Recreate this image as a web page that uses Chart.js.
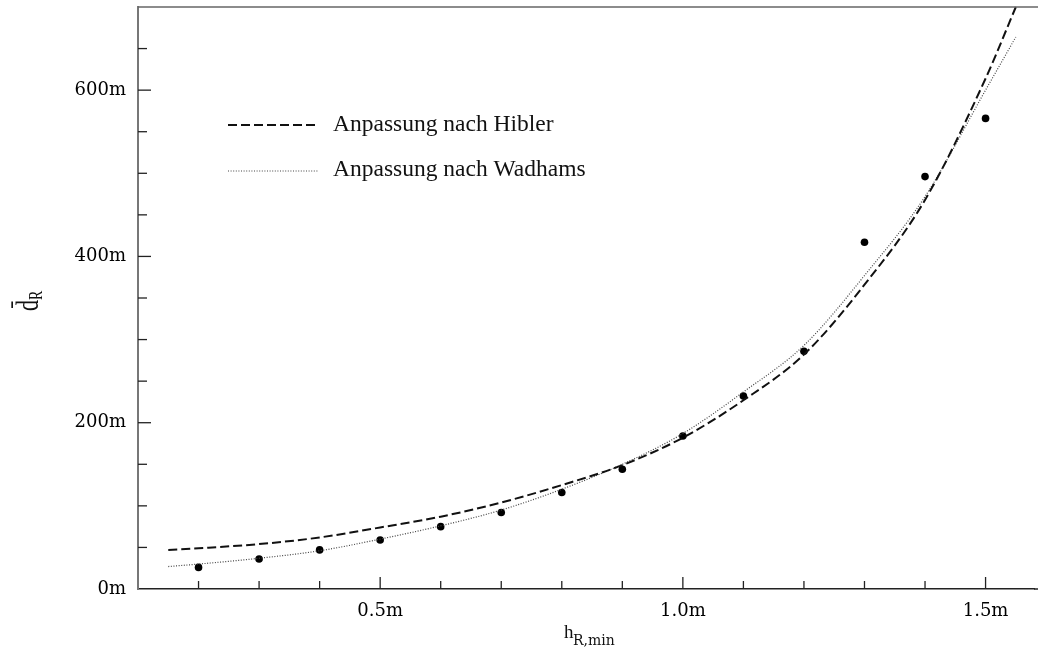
<!DOCTYPE html>
<html lang="de">
<head>
    <meta charset="UTF-8">
    <title>Mittlerer Rückenabstand</title>
    <script src="https://cdn.jsdelivr.net/npm/chart.js"></script>
    <style>
        body { margin: 0; background: #fff; }
        #chart { display: block; }
    </style>
</head>
<body>
    <canvas id="chart" width="1038" height="652"></canvas>

    <script>
        // Messwerte (Punkte)
        const measX = [0.2, 0.3, 0.4, 0.5, 0.6, 0.7, 0.8, 0.9, 1.0, 1.1, 1.2, 1.3, 1.4, 1.5];
        const measY = [26, 36, 47, 59, 75, 92, 116, 144, 184, 232, 286, 417, 496, 566];

        // Anpassungskurven
        const curveX = [0.15, 0.2, 0.3, 0.4, 0.5, 0.6, 0.7, 0.8, 0.9, 1.0, 1.1, 1.2, 1.3, 1.4, 1.5, 1.55];
        const hiblerY = [47, 49, 54, 62, 74, 87, 104, 125, 149, 182, 227, 282, 366, 468, 614, 700];
        const wadhamsY = [27, 30, 37, 46, 60, 76, 95, 120, 150, 187, 237, 293, 377, 472, 600, 664];

        // Achsen
        const xTickValues = [0.2, 0.3, 0.4, 0.5, 0.6, 0.7, 0.8, 0.9, 1.0, 1.1, 1.2, 1.3, 1.4, 1.5];
        const xLabelValues = [0.5, 1.0, 1.5];
        const xLabelTexts = ['0.5m', '1.0m', '1.5m'];
        const yTickValues = [0, 50, 100, 150, 200, 250, 300, 350, 400, 450, 500, 550, 600, 650];
        const yLabelValues = [0, 200, 400, 600];
        const yLabelTexts = ['0m', '200m', '400m', '600m'];

        const labelFont = { family: 'DejaVu Serif', size: 18 };

        function pickLabel(values, texts, v) {
            const i = values.findIndex(t => Math.abs(t - v) < 1e-6);
            return i < 0 ? '' : texts[i];
        }

        const toPoints = (xs, ys) => xs.map((x, i) => ({ x: x, y: ys[i] }));

        // Rahmen oben, Ticks nach innen, Achsentitel und Legende
        const decorations = {
            id: 'decorations',
            afterDraw(chart) {
                const ctx = chart.ctx;
                const area = chart.chartArea;
                const xs = chart.scales.x, ys = chart.scales.y;
                ctx.save();

                ctx.strokeStyle = '#666';
                ctx.lineWidth = 1.5;
                ctx.beginPath();
                ctx.moveTo(area.left, area.top);
                ctx.lineTo(chart.width, area.top);
                ctx.stroke();

                ctx.strokeStyle = '#222';
                ctx.beginPath();
                ctx.moveTo(area.right, area.bottom);
                ctx.lineTo(chart.width, area.bottom);
                ctx.stroke();

                ctx.lineWidth = 1.3;
                xTickValues.forEach(v => {
                    const px = xs.getPixelForValue(v);
                    const len = xLabelValues.some(t => Math.abs(t - v) < 1e-6) ? 12 : 8;
                    ctx.beginPath();
                    ctx.moveTo(px, area.bottom);
                    ctx.lineTo(px, area.bottom - len);
                    ctx.stroke();
                });
                yTickValues.forEach(v => {
                    if (v === 0) return;
                    const py = ys.getPixelForValue(v);
                    const len = yLabelValues.includes(v) ? 13 : 9;
                    ctx.beginPath();
                    ctx.moveTo(area.left, py);
                    ctx.lineTo(area.left + len, py);
                    ctx.stroke();
                });

                // x-Titel: h_{R,min}
                ctx.fillStyle = '#111';
                ctx.textBaseline = 'alphabetic';
                ctx.textAlign = 'left';
                ctx.font = '19px "Liberation Serif"';
                ctx.fillText('h', 564, 638);
                ctx.font = '14px "DejaVu Serif"';
                ctx.fillText('R,min', 573, 645);

                // y-Titel: d-quer_R, gedreht
                ctx.save();
                ctx.translate(38, 311);
                ctx.rotate(-Math.PI / 2);
                ctx.scale(1, 1.4);
                ctx.font = '22px "Liberation Serif"';
                ctx.fillText('d\u0304', 0, 0);
                ctx.font = '14px "Liberation Serif"';
                ctx.fillText('R', 11, 3);
                ctx.restore();

                // Legende
                const rows = [
                    { ds: chart.data.datasets[0], y: 125, base: 131 },
                    { ds: chart.data.datasets[1], y: 171, base: 176 }
                ];
                rows.forEach(r => {
                    ctx.strokeStyle = r.ds.borderColor;
                    ctx.lineWidth = r.ds.borderWidth;
                    ctx.setLineDash(r.ds.borderDash);
                    ctx.beginPath();
                    ctx.moveTo(228, r.y);
                    ctx.lineTo(318, r.y);
                    ctx.stroke();
                    ctx.setLineDash([]);
                    ctx.fillStyle = '#111';
                    ctx.font = '23.5px "Liberation Serif"';
                    ctx.fillText(r.ds.label, 333, r.base);
                });

                ctx.restore();
            }
        };

        new Chart(document.getElementById('chart'), {
            type: 'scatter',
            data: {
                datasets: [
                    {
                        label: 'Anpassung nach Hibler',
                        data: toPoints(curveX, hiblerY),
                        showLine: true,
                        borderColor: '#111',
                        borderWidth: 2,
                        borderDash: [9, 4],
                        pointRadius: 0,
                        cubicInterpolationMode: 'monotone',
                        clip: 2
                    },
                    {
                        label: 'Anpassung nach Wadhams',
                        data: toPoints(curveX, wadhamsY),
                        showLine: true,
                        borderColor: '#444',
                        borderWidth: 1.2,
                        borderDash: [1, 1.6],
                        pointRadius: 0,
                        cubicInterpolationMode: 'monotone'
                    },
                    {
                        label: 'Messwerte',
                        data: toPoints(measX, measY),
                        showLine: false,
                        pointRadius: 3.8,
                        pointBackgroundColor: '#000',
                        pointBorderColor: '#000',
                        pointBorderWidth: 0
                    }
                ]
            },
            options: {
                responsive: false,
                animation: false,
                devicePixelRatio: 1,
                layout: { padding: { top: 7, right: 0, left: 0, bottom: 0 } },
                plugins: {
                    legend: { display: false },
                    tooltip: { enabled: false }
                },
                scales: {
                    x: {
                        type: 'linear',
                        min: 0.1,
                        max: 1.58,
                        afterBuildTicks: s => { s.ticks = xTickValues.map(v => ({ value: v })); },
                        afterFit: s => { s.height = 63; s.paddingLeft = 0; s.paddingRight = 0; },
                        grid: { display: false, drawTicks: false },
                        border: { display: true, color: '#222', width: 1.5 },
                        ticks: {
                            autoSkip: false,
                            maxRotation: 0,
                            padding: 12,
                            color: '#000',
                            font: labelFont,
                            callback: v => pickLabel(xLabelValues, xLabelTexts, v)
                        }
                    },
                    y: {
                        type: 'linear',
                        min: 0,
                        max: 700,
                        afterBuildTicks: s => { s.ticks = yTickValues.map(v => ({ value: v })); },
                        afterFit: s => { s.width = 138; s.paddingTop = 0; s.paddingBottom = 0; },
                        grid: { display: false, drawTicks: false },
                        border: { display: true, color: '#777', width: 2 },
                        ticks: {
                            autoSkip: false,
                            padding: 12,
                            color: '#000',
                            font: labelFont,
                            callback: v => pickLabel(yLabelValues, yLabelTexts, v)
                        }
                    }
                }
            },
            plugins: [decorations]
        });
    </script>
</body>
</html>
